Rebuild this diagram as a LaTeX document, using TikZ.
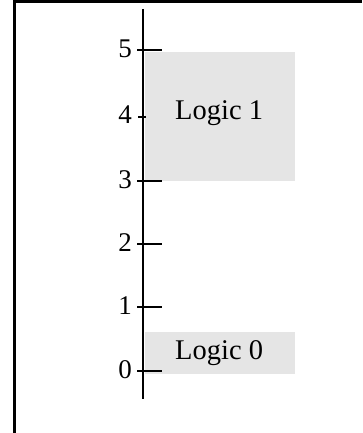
\documentclass[tikz,border=0pt]{standalone}
\usepackage{fontspec}
\setmainfont{Liberation Serif}
\begin{document}
\begin{tikzpicture}[x=1pt,y=-1pt,
  framel/.style={line width=2.6pt},
  axisl/.style={line width=2.4pt},
  tickl/.style={line width=2.4pt},
  band/.style={fill=black!10,draw=none},
  ticklabel/.style={anchor=east,inner sep=0pt,font=\fontsize{27}{27}\selectfont},
  bandlabel/.style={anchor=base west,inner sep=0pt,font=\fontsize{28.5}{28.5}\selectfont}]
\useasboundingbox (0,0) rectangle (362,433);
% frame
\draw[framel] (14.7,433) -- (14.7,1.3) -- (362,1.3);
% bands
\fill[band] (145,52) rectangle (295,181);
\fill[band] (145,332) rectangle (295,373.7);
\node[bandlabel] (l1) at (175,120) {Logic 1};
\node[bandlabel] (l0) at (175,359.3) {Logic 0};
% axis
\coordinate (atop) at (142.7,9);
\coordinate (abot) at (142.7,399);
\draw[axisl] (atop) -- (abot);
% ticks
\foreach \v/\y in {0/371,1/307,2/244,3/181,5/50}{
  \draw[tickl] (137,\y) -- (162,\y);
  \node[ticklabel] (t\v) at (132,\y-1.5) {\v};
}
\draw[tickl] (138,117) -- (146,117);
\node[ticklabel] (t4) at (132,115) {4};
\end{tikzpicture}
\end{document}
